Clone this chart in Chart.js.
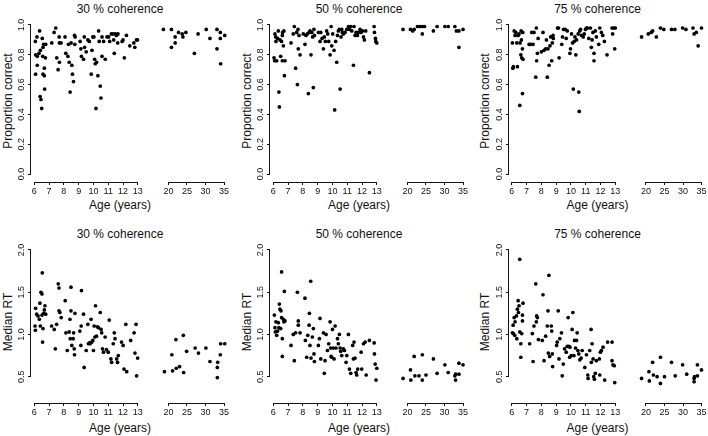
<!DOCTYPE html>
<html><head><meta charset="utf-8">
<script src="https://cdn.jsdelivr.net/npm/chart.js@4/dist/chart.umd.min.js"></script>
<style>
html,body{margin:0;padding:0;background:#fff;overflow:hidden}
#fig{position:relative;width:708px;height:436px;overflow:hidden;background:#fff;font-family:'Liberation Sans',Arial,sans-serif;color:#111}
#fig canvas{position:absolute}
.t{position:absolute;white-space:nowrap;font-size:12px;line-height:14px;transform:translate(-50%,-50%)}
.yl{transform:translate(-50%,-50%) rotate(-90deg)}
</style></head><body><div id="fig"></div>
<script>
// ---------- text ----------
const coherenceTitles = ['30 % coherence', '50 % coherence', '75 % coherence'];
const rowYLabels = ['Proportion correct', 'Median RT'];
const xAxisLabel = 'Age (years)';
// ---------- tick labels ----------
const childAgeTicks = [6, 7, 8, 9, 10, 11, 12, 13];
const adultAgeTicks = [20, 25, 30, 35];
const pcTicks = [0, 0.2, 0.4, 0.6, 0.8, 1.0];
const rtTicks = [0.5, 1.0, 1.5, 2.0];

// ---------- data: [age, value] ----------
const acc30Children = [[6.07,.89],[6.18,.92],[6.09,.80],[6.20,.79],[6.09,.67],[6.20,.73],[6.32,.81],[6.36,.96],[6.41,.83],[6.39,.52],[6.45,.50],[6.50,.44],[6.54,.91],[6.59,.85],[6.57,.79],[6.59,.67],[6.68,.66],[6.68,.71],[6.70,.57],[6.75,.78],[6.77,.87],[6.63,.87],[7.18,.88],[7.34,.95],[7.45,.98],[7.52,.78],[7.61,.70],[7.68,.92],[7.70,.88],[7.70,.75],[7.81,.88],[8.08,.92],[8.13,.81],[8.27,.79],[8.31,.87],[8.36,.75],[8.42,.55],[8.49,.88],[8.54,.73],[8.58,.67],[8.65,.62],[8.72,.93],[8.74,.87],[8.76,.92],[9.10,.89],[9.15,.84],[9.19,.79],[9.33,.77],[9.38,.92],[9.40,.85],[9.51,.82],[9.62,.90],[9.72,.89],[9.85,.67],[9.90,.83],[9.96,.92],[10.03,.92],[10.08,.77],[10.12,.74],[10.17,.44],[10.21,.75],[10.30,.66],[10.35,.96],[10.39,.89],[10.46,.59],[10.51,.51],[10.58,.79],[10.58,.92],[10.69,.89],[10.80,.77],[10.92,.92],[11.03,.92],[11.10,.89],[11.21,.94],[11.32,.94],[11.37,.90],[11.41,.81],[11.48,.94],[11.55,.93],[11.64,.88],[11.66,.94],[11.94,.89],[12.00,.90],[12.09,.78],[12.23,.93],[12.46,.86],[12.73,.88],[12.80,.85],[12.91,.90],[12.98,.90]];
const acc30Adults = [[18.6,.97],[20.8,.97],[20.8,.85],[21.8,.92],[21.8,.88],[22.7,.95],[23.7,.94],[23.9,.92],[24.7,.95],[27.0,.81],[28.0,.94],[30.2,.97],[31.2,.91],[33.1,.97],[33.1,.84],[34.0,.95],[34.0,.91],[34.1,.74],[35.2,.93]];
const acc50Children = [[6.05,.78],[6.09,.76],[6.11,.94],[6.16,.92],[6.18,.89],[6.23,.76],[6.29,.91],[6.34,.96],[6.38,.55],[6.41,.45],[6.45,.90],[6.50,.79],[6.56,.89],[6.61,.76],[6.63,.95],[6.68,.86],[6.72,.96],[6.75,.66],[6.79,.76],[6.61,.93],[7.20,.88],[7.35,.94],[7.42,.99],[7.51,.71],[7.58,.95],[7.63,.60],[7.67,.97],[7.69,.84],[7.74,.93],[7.81,.80],[8.03,.94],[8.14,.87],[8.21,.93],[8.30,.94],[8.37,.54],[8.42,.95],[8.48,.96],[8.55,.80],[8.60,.95],[8.66,.92],[8.71,.58],[8.75,.97],[8.78,.93],[9.05,.95],[9.16,.89],[9.21,.95],[9.30,.91],[9.39,.84],[9.45,.92],[9.52,.89],[9.61,.96],[9.68,.94],[9.75,.89],[9.84,.80],[9.91,.99],[9.95,.86],[10.02,.94],[10.11,.83],[10.15,.43],[10.22,.89],[10.29,.75],[10.34,.93],[10.40,.96],[10.47,.97],[10.52,.57],[10.58,.92],[10.63,.97],[10.67,.95],[10.74,.94],[10.85,.95],[10.97,.97],[11.08,.99],[11.15,.97],[11.24,.99],[11.31,.96],[11.42,.73],[11.46,.99],[11.53,.93],[11.60,.95],[11.69,.93],[11.76,.95],[11.87,.97],[11.94,.95],[12.03,.96],[12.10,.92],[12.16,.90],[12.25,.96],[12.50,.68],[12.82,.99],[12.84,.95],[12.93,.89],[13.00,.88],[12.91,.91]];
const acc50Adults = [[18.8,.97],[20.8,.97],[21.4,.96],[21.8,.97],[22.7,.99],[23.4,.99],[24.0,.94],[24.0,.99],[24.6,.99],[27.0,.96],[28.0,.99],[30.1,.99],[31.0,.99],[32.8,.99],[33.2,.96],[33.9,.96],[33.9,.85],[35.0,.97]];
const acc75Children = [[6.04,.88],[6.07,.71],[6.11,.72],[6.16,.96],[6.22,.93],[6.27,.95],[6.34,.88],[6.38,.72],[6.43,.93],[6.49,.94],[6.54,.46],[6.56,.88],[6.61,.80],[6.63,.96],[6.65,.90],[6.67,.78],[6.72,.54],[6.72,.84],[6.74,.95],[6.76,.77],[7.17,.87],[7.28,.87],[7.35,.95],[7.44,.87],[7.50,.95],[7.62,.65],[7.66,.98],[7.68,.76],[7.73,.81],[7.78,.91],[8.00,.82],[8.11,.95],[8.18,.83],[8.29,.84],[8.34,.90],[8.40,.65],[8.45,.84],[8.52,.73],[8.58,.86],[8.63,.92],[8.70,.76],[8.74,.88],[8.79,.93],[8.81,.91],[9.09,.98],[9.16,.98],[9.20,.78],[9.38,.87],[9.43,.92],[9.50,.97],[9.61,.97],[9.68,.91],[9.75,.96],[9.93,.81],[9.97,.84],[10.04,.94],[10.11,.88],[10.16,.57],[10.22,.89],[10.27,.92],[10.33,.80],[10.38,.90],[10.49,.94],[10.53,.55],[10.56,.42],[10.60,.96],[10.65,.97],[10.71,.93],[10.83,.92],[10.90,.94],[10.98,.97],[11.05,.98],[11.12,.98],[11.21,.91],[11.32,.98],[11.38,.85],[11.43,.90],[11.49,.95],[11.56,.81],[11.56,.76],[11.65,.96],[11.72,.92],[11.88,.87],[11.95,.98],[12.06,.95],[12.15,.93],[12.26,.89],[12.44,.80],[12.78,.98],[12.82,.94],[12.89,.98],[12.96,.84],[13.00,.98]];
const acc75Adults = [[18.8,.92],[20.6,.94],[21.4,.95],[21.8,.96],[22.8,.92],[23.9,.98],[24.8,.97],[26.9,.97],[27.8,.97],[29.9,.98],[30.8,.97],[32.7,.98],[33.0,.94],[33.6,.95],[34.1,.86],[35.0,.98]];

const rt30Children = [[6.05,1.10],[6.07,1.05],[6.09,1.31],[6.16,1.24],[6.25,1.22],[6.34,1.18],[6.38,1.37],[6.41,1.10],[6.45,1.50],[6.52,1.48],[6.54,1.73],[6.52,1.23],[6.56,0.91],[6.59,1.07],[6.63,1.25],[6.68,1.29],[6.72,1.34],[6.77,1.24],[7.17,1.10],[7.35,1.06],[7.42,0.83],[7.51,1.12],[7.62,1.60],[7.67,1.55],[7.67,1.28],[7.73,1.26],[7.82,1.20],[8.09,1.40],[8.14,1.02],[8.23,0.81],[8.36,1.03],[8.41,1.18],[8.43,0.95],[8.48,1.28],[8.48,1.56],[8.54,0.87],[8.63,0.95],[8.66,1.02],[8.70,0.83],[8.72,0.76],[8.75,1.25],[9.08,1.04],[9.15,0.87],[9.17,1.10],[9.19,1.52],[9.33,1.24],[9.37,0.61],[9.51,0.81],[9.62,1.12],[9.66,0.89],[9.73,0.90],[9.78,0.89],[9.84,1.18],[9.89,0.91],[9.96,0.93],[10.00,0.81],[10.05,1.10],[10.10,0.97],[10.14,1.34],[10.21,0.98],[10.27,1.09],[10.34,1.08],[10.46,1.26],[10.52,1.06],[10.56,1.02],[10.61,0.83],[10.68,0.79],[10.79,0.97],[10.88,0.82],[11.00,0.79],[11.07,1.17],[11.18,0.71],[11.23,0.67],[11.34,0.89],[11.41,1.02],[11.46,0.95],[11.57,0.71],[11.63,0.67],[11.68,0.75],[11.90,0.91],[12.01,0.87],[12.07,0.59],[12.19,1.12],[12.25,0.56],[12.52,0.93],[12.75,1.02],[12.81,0.78],[12.88,1.12],[12.99,0.72],[12.92,0.51]];
const rt30Adults = [[18.9,0.56],[20.9,0.76],[21.1,0.57],[22.0,0.94],[22.1,0.60],[23.0,0.62],[24.0,0.99],[24.1,0.55],[24.9,0.80],[27.2,0.84],[28.1,0.78],[30.1,0.84],[31.2,0.68],[33.2,0.61],[33.2,0.49],[33.3,0.67],[34.0,0.76],[34.1,0.89],[35.2,0.89]];
const rt50Children = [[6.07,1.23],[6.11,1.08],[6.14,1.03],[6.18,1.15],[6.23,0.99],[6.29,1.04],[6.34,1.14],[6.38,1.08],[6.41,1.36],[6.45,1.30],[6.50,1.07],[6.52,1.28],[6.56,1.74],[6.56,1.20],[6.61,0.95],[6.61,0.74],[6.68,1.18],[6.72,1.15],[6.75,1.51],[6.79,1.16],[7.20,0.87],[7.35,1.00],[7.42,0.69],[7.51,1.02],[7.63,1.50],[7.69,1.16],[7.69,1.11],[7.81,1.02],[8.14,1.43],[8.17,0.93],[8.26,0.73],[8.33,0.99],[8.42,1.11],[8.44,1.25],[8.48,0.87],[8.53,1.63],[8.55,0.72],[8.64,0.97],[8.71,1.07],[8.75,0.77],[8.78,0.68],[9.05,0.87],[9.12,0.95],[9.16,1.19],[9.21,0.71],[9.39,1.02],[9.45,0.54],[9.50,0.69],[9.57,1.00],[9.66,0.81],[9.75,0.89],[9.84,1.15],[9.88,0.84],[9.91,0.74],[9.95,0.73],[10.00,1.06],[10.06,0.84],[10.11,0.71],[10.18,1.10],[10.24,0.84],[10.34,0.95],[10.40,0.89],[10.47,1.00],[10.52,0.84],[10.56,0.80],[10.63,0.75],[10.74,0.83],[10.81,0.81],[10.92,0.67],[10.97,0.75],[11.08,1.00],[11.15,0.59],[11.24,0.54],[11.37,0.87],[11.42,0.71],[11.46,0.91],[11.53,0.72],[11.60,0.55],[11.64,0.52],[11.71,0.59],[11.94,0.79],[11.98,0.59],[12.10,0.89],[12.21,0.91],[12.28,0.52],[12.50,0.93],[12.82,0.90],[12.84,0.77],[12.89,0.65],[13.00,0.60],[12.95,0.46]];
const rt50Adults = [[18.8,0.48],[20.8,0.58],[20.9,0.46],[21.8,0.74],[22.0,0.51],[23.1,0.51],[24.0,0.76],[24.0,0.46],[25.0,0.52],[27.0,0.71],[28.0,0.54],[30.1,0.64],[31.0,0.55],[32.8,0.51],[33.0,0.46],[33.0,0.53],[33.9,0.66],[33.9,0.53],[35.0,0.64]];
const rt75Children = [[6.04,1.02],[6.09,1.11],[6.11,1.01],[6.16,1.20],[6.20,0.99],[6.22,1.15],[6.31,1.22],[6.34,0.95],[6.38,1.30],[6.43,1.40],[6.45,1.26],[6.49,1.34],[6.54,1.89],[6.54,1.03],[6.61,0.89],[6.61,0.73],[6.67,1.01],[6.72,1.16],[6.72,1.23],[6.76,1.37],[7.21,0.89],[7.39,1.01],[7.44,0.68],[7.50,1.10],[7.62,1.60],[7.66,1.15],[7.68,1.22],[7.73,1.20],[7.80,0.94],[8.06,0.93],[8.11,1.47],[8.18,0.69],[8.29,0.98],[8.40,1.10],[8.45,1.28],[8.47,0.78],[8.51,1.70],[8.56,0.74],[8.67,1.10],[8.70,1.04],[8.74,0.77],[8.76,0.62],[9.03,0.87],[9.07,0.91],[9.14,1.28],[9.19,0.71],[9.25,0.95],[9.36,1.02],[9.41,0.51],[9.48,0.65],[9.57,0.83],[9.68,0.79],[9.75,0.86],[9.81,1.20],[9.86,0.86],[9.91,0.73],[9.93,0.85],[10.02,0.75],[10.08,1.06],[10.13,1.26],[10.20,0.75],[10.24,0.93],[10.31,0.84],[10.38,0.93],[10.42,1.02],[10.47,0.81],[10.53,0.77],[10.60,0.70],[10.69,0.72],[10.76,0.81],[10.94,0.61],[11.05,0.76],[11.14,0.52],[11.16,0.48],[11.27,0.81],[11.36,1.06],[11.38,0.67],[11.43,0.89],[11.50,0.71],[11.54,0.50],[11.59,0.47],[11.65,0.54],[11.72,0.69],[11.92,0.71],[11.95,0.52],[11.99,0.79],[12.06,0.81],[12.17,0.85],[12.28,0.46],[12.48,0.91],[12.78,0.91],[12.78,0.69],[12.84,0.64],[12.93,0.63],[12.96,0.43]];
const rt75Adults = [[18.8,0.48],[20.8,0.56],[20.9,0.45],[21.8,0.67],[22.0,0.52],[23.0,0.50],[23.9,0.73],[23.9,0.42],[25.0,0.50],[26.9,0.67],[27.9,0.51],[29.9,0.64],[31.0,0.53],[33.0,0.48],[33.0,0.44],[33.1,0.50],[33.9,0.64],[33.9,0.51],[35.0,0.58]];

// ---------- layout ----------
const panels = [
  [[acc30Children, acc30Adults], [acc50Children, acc50Adults], [acc75Children, acc75Adults]],
  [[rt30Children, rt30Adults], [rt50Children, rt50Adults], [rt75Children, rt75Adults]]
];
const colBase = [0, 239, 477.5];
const rowGeo = [
  {canvasTop: 0, areaTop: 19, areaBottom: 182, vHi: 1.0, pHi: 25, vLo: 0.0, pLo: 174, titleY: 9, xlabY: 205, ylabY: 101, ticks: pcTicks},
  {canvasTop: 225, areaTop: 244, areaBottom: 403, vHi: 2.0, pHi: 250, vLo: 0.5, pLo: 376.7, titleY: 234.3, xlabY: 427.5, ylabY: 322, ticks: rtTicks}
];
const subGeo = [
  {canvasOff: 0, width: 150, areaL: 31, areaR: 141, tLo: 6, pLo: 34.3, tHi: 13, pHi: 137.8, ticks: childAgeTicks, yAxis: true},
  {canvasOff: 155, width: 80, areaL: 5, areaR: 74, tLo: 20, pLo: 168.5, tHi: 35, pHi: 224, ticks: adultAgeTicks, yAxis: false}
];
const XAXIS_H = 18;
const tickFont = {family: "'Liberation Sans', Arial, sans-serif", size: 9};

const fig = document.getElementById('fig');
function addText(txt, x, y, cls) {
  const d = document.createElement('div');
  d.className = 't' + (cls ? ' ' + cls : '');
  d.textContent = txt;
  d.style.left = x + 'px';
  d.style.top = y + 'px';
  fig.appendChild(d);
}

const rAxes = {
  id: 'rAxes',
  afterDraw(chart, args, opts) {
    const ctx = chart.ctx, xs = chart.scales.x, ys = chart.scales.y, a = chart.chartArea;
    ctx.save();
    ctx.strokeStyle = '#111';
    ctx.lineWidth = 1;
    ctx.beginPath();
    const xt = xs.ticks;
    const yb = Math.round(a.bottom) + 0.5;
    ctx.moveTo(xs.getPixelForValue(xt[0].value), yb);
    ctx.lineTo(xs.getPixelForValue(xt[xt.length - 1].value), yb);
    if (opts.yAxis) {
      const yt = ys.ticks;
      const xl = Math.round(a.left) - 0.5;
      ctx.moveTo(xl, ys.getPixelForValue(yt[0].value));
      ctx.lineTo(xl, ys.getPixelForValue(yt[yt.length - 1].value));
    }
    ctx.stroke();
    ctx.restore();
  }
};

rowGeo.forEach((r, ri) => {
  colBase.forEach((base, ci) => {
    addText(coherenceTitles[ci], base + 120, r.titleY);
    addText(xAxisLabel, base + 120, r.xlabY);
    addText(rowYLabels[ri], base + 7.5, r.ylabY, 'yl');
    subGeo.forEach((g, si) => {
      const pts = panels[ri][ci][si];
      const cLeft = Math.round(base + g.canvasOff);
      const absL = cLeft + g.areaL, absR = cLeft + g.areaR;
      const aLo = base + g.pLo, aHi = base + g.pHi;
      const ppx = (aHi - aLo) / (g.tHi - g.tLo);
      const xmin = g.tLo - (aLo - absL) / ppx;
      const xmax = g.tHi + (absR - aHi) / ppx;
      const ppy = (r.pLo - r.pHi) / (r.vHi - r.vLo);
      const ymax = r.vHi + (r.pHi - r.areaTop) / ppy;
      const ymin = r.vLo - (r.areaBottom - r.pLo) / ppy;
      const h = r.areaBottom - r.canvasTop + XAXIS_H;
      const cv = document.createElement('canvas');
      cv.width = g.width; cv.height = h;
      cv.style.left = cLeft + 'px'; cv.style.top = r.canvasTop + 'px';
      cv.style.width = g.width + 'px'; cv.style.height = h + 'px';
      fig.appendChild(cv);
      new Chart(cv, {
        type: 'scatter',
        data: {datasets: [{
          data: pts.map(p => ({x: p[0], y: p[1]})),
          backgroundColor: '#000', borderColor: '#000', borderWidth: 0,
          pointRadius: 1.85, pointHoverRadius: 1.85, clip: false
        }]},
        options: {
          responsive: false, animation: false, events: [], devicePixelRatio: 1,
          layout: {padding: {left: g.yAxis ? 0 : g.areaL, right: g.width - g.areaR, top: r.areaTop - r.canvasTop, bottom: 0}},
          plugins: {legend: {display: false}, tooltip: {enabled: false}, rAxes: {yAxis: g.yAxis}},
          scales: {
            x: {
              type: 'linear', position: 'bottom', min: xmin, max: xmax, bounds: 'data',
              afterBuildTicks: s => { s.ticks = g.ticks.map(v => ({value: v})); },
              afterFit: s => { s.height = XAXIS_H; },
              grid: {display: true, drawOnChartArea: false, drawTicks: true, tickLength: 3, color: '#111', lineWidth: 1},
              border: {display: false},
              ticks: {autoSkip: false, maxRotation: 0, minRotation: 0, padding: 1, font: tickFont, color: '#111', callback: v => String(v)}
            },
            y: {
              type: 'linear', position: 'left', display: g.yAxis, min: ymin, max: ymax, bounds: 'data',
              afterBuildTicks: s => { s.ticks = r.ticks.map(v => ({value: v})); },
              afterFit: s => { s.width = g.yAxis ? g.areaL : 0; },
              grid: {display: true, drawOnChartArea: false, drawTicks: true, tickLength: 3, color: '#111', lineWidth: 1},
              border: {display: false},
              ticks: {autoSkip: false, minRotation: 90, maxRotation: 90, crossAlign: 'center', padding: 0, font: tickFont, color: '#111', callback: v => v.toFixed(1)}
            }
          }
        },
        plugins: [rAxes]
      });
    });
  });
});
</script></body></html>
